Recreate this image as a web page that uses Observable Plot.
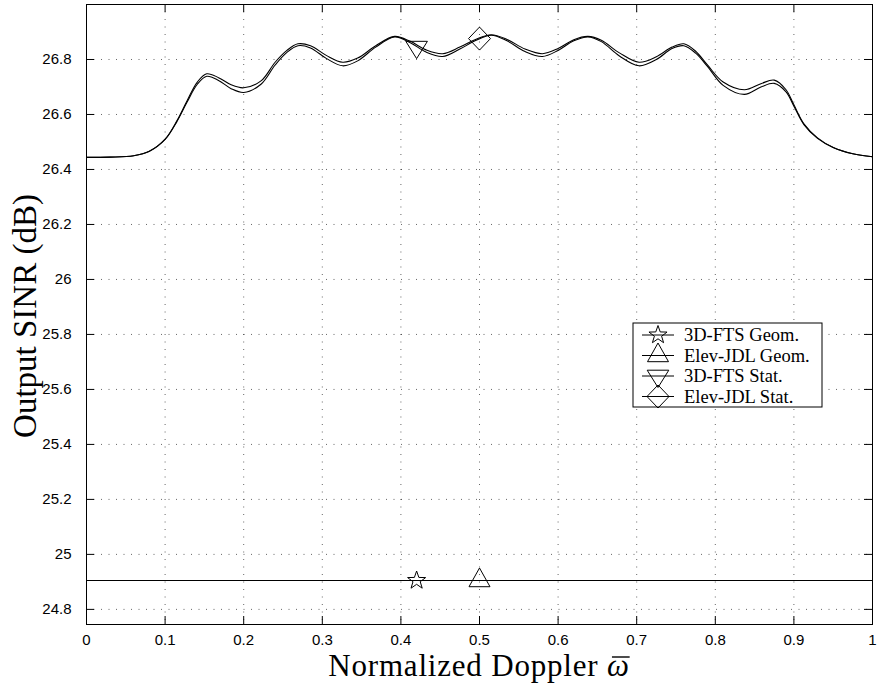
<!DOCTYPE html>
<html><head><meta charset="utf-8">
<script src="https://cdn.jsdelivr.net/npm/d3@7"></script>
<script src="https://cdn.jsdelivr.net/npm/@observablehq/plot@0.6"></script>
<style>body{margin:0;background:#fff}#chart{width:878px;height:688px}</style>
</head><body><div id="chart"></div>
<script>
// ---- data ----
const dopplerX = [0, 0.03, 0.06, 0.08, 0.1, 0.115, 0.128, 0.141, 0.153, 0.168, 0.184, 0.2, 0.222, 0.24, 0.255, 0.269, 0.285, 0.305, 0.326, 0.345, 0.368, 0.392, 0.412, 0.432, 0.453, 0.475, 0.495, 0.515, 0.535, 0.558, 0.58, 0.6, 0.62, 0.638, 0.655, 0.678, 0.703, 0.725, 0.745, 0.76, 0.775, 0.79, 0.81, 0.837, 0.858, 0.875, 0.89, 0.9, 0.913, 0.93, 0.95, 0.975, 1.0];
const sinrElevJdlStat = [26.444, 26.445, 26.45, 26.466, 26.51, 26.577, 26.65, 26.718, 26.748, 26.734, 26.708, 26.697, 26.722, 26.79, 26.833, 26.857, 26.85, 26.815, 26.79, 26.805, 26.85, 26.884, 26.866, 26.835, 26.821, 26.845, 26.873, 26.89, 26.873, 26.838, 26.821, 26.84, 26.872, 26.884, 26.87, 26.824, 26.79, 26.81, 26.845, 26.857, 26.83, 26.78, 26.718, 26.69, 26.712, 26.725, 26.69, 26.635, 26.565, 26.515, 26.48, 26.457, 26.446];
const sinr3dFtsStat = [26.444, 26.445, 26.45, 26.466, 26.509, 26.574, 26.645, 26.71, 26.739, 26.724, 26.694, 26.68, 26.71, 26.78, 26.826, 26.85, 26.842, 26.804, 26.777, 26.795, 26.845, 26.882, 26.861, 26.827, 26.811, 26.838, 26.869, 26.888, 26.868, 26.829, 26.811, 26.833, 26.868, 26.882, 26.865, 26.813, 26.777, 26.8, 26.84, 26.85, 26.823, 26.775, 26.706, 26.673, 26.7, 26.713, 26.682, 26.63, 26.562, 26.513, 26.48, 26.457, 26.446];
const geomX = [0, 1];
const sinr3dFtsGeom = [24.905, 24.905];
const sinrElevJdlGeom = [24.905, 24.905];

const seriesNames = ["3D-FTS Geom.", "Elev-JDL Geom.", "3D-FTS Stat.", "Elev-JDL Stat."];
const markerX = [0.42, 0.5, 0.42, 0.5];
const markerY = [24.905, 24.905, 26.845, 26.876];

const xTicks = [0, 0.1, 0.2, 0.3, 0.4, 0.5, 0.6, 0.7, 0.8, 0.9, 1];
const yTicks = [24.8, 25, 25.2, 25.4, 25.6, 25.8, 26, 26.2, 26.4, 26.6, 26.8];
const xDomain = [0, 1];
const yDomain = [24.745, 27.0];

// ---- MATLAB-like marker shapes ----
const symStar = {draw(ctx, size) {
  const r = Math.sqrt(size / Math.PI) * 0.95, ri = r * 0.4;
  for (let i = 0; i < 10; i++) {
    const a = -Math.PI / 2 + i * Math.PI / 5, rr = i % 2 ? ri : r;
    const x = rr * Math.cos(a), y = rr * Math.sin(a);
    i ? ctx.lineTo(x, y) : ctx.moveTo(x, y);
  }
  ctx.closePath();
}};
const symTriUp = {draw(ctx, size) {
  const r = Math.sqrt(size / Math.PI);
  ctx.moveTo(0, -1.25 * r); ctx.lineTo(1.05 * r, 0.62 * r); ctx.lineTo(-1.05 * r, 0.62 * r); ctx.closePath();
}};
const symTriDown = {draw(ctx, size) {
  const r = Math.sqrt(size / Math.PI);
  ctx.moveTo(0, 1.15 * r); ctx.lineTo(1.08 * r, -0.58 * r); ctx.lineTo(-1.08 * r, -0.58 * r); ctx.closePath();
}};
const symDiamond = {draw(ctx, size) {
  const r = Math.sqrt(size / Math.PI);
  ctx.moveTo(0, -1.15 * r); ctx.lineTo(1.1 * r, 0); ctx.lineTo(0, 1.15 * r); ctx.lineTo(-1.1 * r, 0); ctx.closePath();
}};
const seriesSymbols = [symStar, symTriUp, symTriDown, symDiamond];

// ---- tables ----
const statLines = [
  ...dopplerX.map((x, i) => ({x, y: sinr3dFtsStat[i], s: seriesNames[2]})),
  ...dopplerX.map((x, i) => ({x, y: sinrElevJdlStat[i], s: seriesNames[3]}))
];
const geomLines = [
  ...geomX.map((x, i) => ({x, y: sinr3dFtsGeom[i], s: seriesNames[0]})),
  ...geomX.map((x, i) => ({x, y: sinrElevJdlGeom[i], s: seriesNames[1]}))
];
const markers = seriesNames.map((s, i) => ({s, x: markerX[i], y: markerY[i], sym: seriesSymbols[i]}));

const W = 878, H = 688, mL = 86, mR = 6, mT = 4, mB = 64, tickLen = 8;
const plotW = W - mL - mR, plotH = H - mT - mB;
const gridStyle = {stroke: "#000", strokeOpacity: 0.6, strokeWidth: 1, strokeDasharray: "1,6.5"};
const fmt = d => String(d);

const chart = Plot.plot({
  width: W, height: H,
  marginLeft: mL, marginRight: mR, marginTop: mT, marginBottom: mB,
  x: {domain: xDomain, label: null},
  y: {domain: yDomain, label: null},
  style: {background: "#fff", color: "#000", fontFamily: "'Liberation Sans', Arial, sans-serif"},
  marks: [
    Plot.ruleX(xTicks, gridStyle),
    Plot.ruleY(yTicks, gridStyle),
    Plot.line(geomLines, {x: "x", y: "y", z: "s", stroke: "#000", strokeWidth: 1.1}),
    Plot.line(statLines, {x: "x", y: "y", z: "s", stroke: "#000", strokeWidth: 1.1, curve: "catmull-rom"}),
    ...markers.map(m => Plot.dot([m], {x: "x", y: "y", r: 10, symbol: () => m.sym, stroke: "#000", strokeWidth: 1, fill: "none"})),
    Plot.frame({stroke: "#000", strokeWidth: 1}),
    Plot.ruleX(xTicks, {stroke: "#000", insetTop: plotH - tickLen}),
    Plot.ruleX(xTicks, {stroke: "#000", insetBottom: plotH - tickLen}),
    Plot.ruleY(yTicks, {stroke: "#000", insetRight: plotW - tickLen}),
    Plot.ruleY(yTicks, {stroke: "#000", insetLeft: plotW - tickLen}),
    Plot.axisX({ticks: xTicks, tickSize: 0, tickPadding: 10, fontSize: 15, label: null, tickFormat: fmt}),
    Plot.axisY({ticks: yTicks, tickSize: 0, tickPadding: 15, fontSize: 15, label: null, tickFormat: fmt})
  ]
});
document.getElementById("chart").appendChild(chart);

const svg = d3.select(chart);
const serif = "'Liberation Serif', 'Times New Roman', serif";
const xBase = 676;
const xl = svg.append("text").attr("x", mL + plotW / 2).attr("y", xBase).attr("text-anchor", "middle")
  .attr("font-family", serif).attr("font-size", 31).attr("letter-spacing", 0.8).attr("fill", "#000");
xl.append("tspan").text("Normalized Doppler ");
xl.append("tspan").attr("font-style", "italic").text("ω");
// macron over the omega
{
  const node = xl.node();
  const n = node.getNumberOfChars();
  const s = node.getStartPositionOfChar(n - 1), e = node.getEndPositionOfChar(n - 1);
  svg.append("line").attr("x1", s.x + 5).attr("x2", e.x).attr("y1", xBase - 19).attr("y2", xBase - 19)
    .attr("stroke", "#000").attr("stroke-width", 1.4);
}
svg.append("text").attr("transform", `translate(36,${mT + plotH / 2 + 2}) rotate(-90)`).attr("text-anchor", "middle")
  .attr("font-family", serif).attr("font-size", 33).attr("fill", "#000").text("Output SINR (dB)");

// legend
const lg = svg.append("g").attr("transform", "translate(633,323)");
lg.append("rect").attr("width", 189).attr("height", 84).attr("fill", "#fff").attr("stroke", "#000").attr("stroke-width", 1);
seriesNames.forEach((name, i) => {
  const cy = 12 + i * 20.5;
  lg.append("line").attr("x1", 9).attr("x2", 41).attr("y1", cy).attr("y2", cy).attr("stroke", "#000");
  lg.append("path").attr("d", d3.symbol().type(seriesSymbols[i]).size(100 * Math.PI)()).attr("transform", `translate(25,${cy})`)
    .attr("fill", "none").attr("stroke", "#000");
  lg.append("text").attr("x", 51).attr("y", cy).attr("dy", "0.35em").attr("text-anchor", "start")
    .attr("font-family", serif).attr("font-size", 18.5).attr("fill", "#000").text(name);
});
</script></body></html>
